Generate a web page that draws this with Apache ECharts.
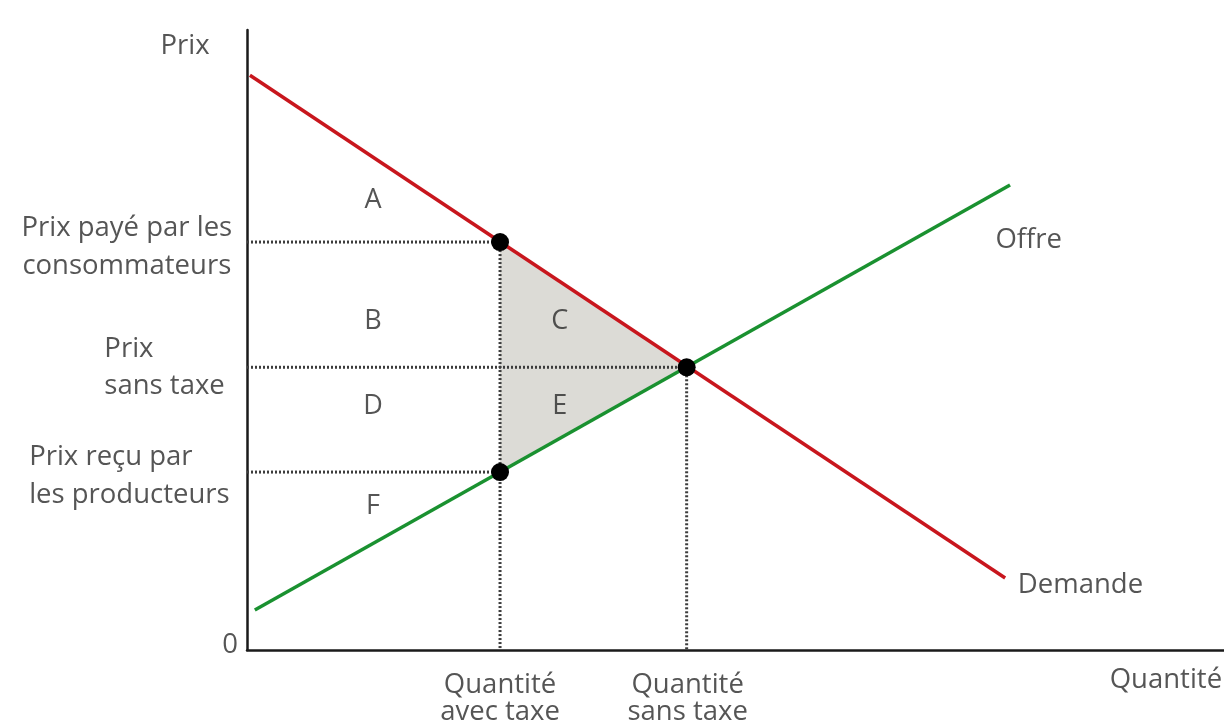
<!DOCTYPE html>
<html><head><meta charset="utf-8">
<script src="https://cdn.jsdelivr.net/npm/echarts@6/dist/echarts.min.js"></script>
<style>html,body{margin:0;padding:0;background:#fff}#c{width:1224px;height:726px}</style>
</head><body><div id="c"></div>
<script>
// ---- data (chart units 0..100 on both axes) ----
const demandLine = [[0.3, 92.7], [77.6, 11.6]];
const supplyLine = [[0.8, 6.45], [78.1, 75.0]];
const qTax = 25.9, qNoTax = 45.0;
const pConsumer = 65.8, pNoTax = 45.6, pProducer = 28.7;
const marketPoints = [[qTax, pConsumer], [qNoTax, pNoTax], [qTax, pProducer]];
const dwlTriangle = [[qTax, pConsumer], [qNoTax, pNoTax], [qTax, pProducer]];
const guideLines = [
  [[0, pConsumer], [qTax, pConsumer]],
  [[0, pNoTax], [qNoTax, pNoTax]],
  [[0, pProducer], [qTax, pProducer]],
  [[qTax, pConsumer], [qTax, 0]],
  [[qNoTax, pNoTax], [qNoTax, 0]]
];
const areaLetters = ['A', 'B', 'C', 'D', 'E', 'F'];
const areaLetterPos = [[12.9, 72.6], [12.9, 53.0], [32.0, 53.0], [12.9, 39.3], [32.0, 39.3], [12.9, 23.1]];
const labelTexts = ['Prix', 'Prix payé par les\nconsommateurs', 'Prix\nsans taxe', 'Prix reçu par\nles producteurs',
  '0', 'Quantité\navec taxe', 'Quantité\nsans taxe', 'Quantité', 'Offre', 'Demande'];
const labelPos = [[-6.35, 97.4], [-12.3, 64.9], [-14.6, 45.5], [-22.3, 28.1],
  [-1.74, 0.8], [qTax, -7.8], [45.1, -7.8], [88.3, -4.8], [76.6, 66.1], [78.9, 10.5]];
const labelAlign = ['center', 'center', 'left', 'left', 'center', 'center', 'center', 'left', 'left', 'left'];
const labelLineH = [36, 38, 37, 38, 30, 27, 27, 30, 30, 30];

const FONT = 'Open Sans';
const TXT = '#2b2b2b';

const series = [];
series.push({
  type: 'custom', z: 1, silent: true,
  renderItem: function (params, api) {
    const pts = dwlTriangle.map(p => api.coord(p));
    return { type: 'polygon', shape: { points: pts }, style: { fill: '#dcdbd6' } };
  },
  data: [0]
});
guideLines.forEach(seg => series.push({
  type: 'line', data: seg, symbol: 'none', z: 2, silent: true,
  lineStyle: { color: '#3c3c3c', width: 3, type: [2, 2] }
}));
series.push({ type: 'line', data: demandLine, symbol: 'none', z: 3, silent: true, lineStyle: { color: '#c8161d', width: 3.5 } });
series.push({ type: 'line', data: supplyLine, symbol: 'none', z: 3, silent: true, lineStyle: { color: '#1a9130', width: 3.5 } });
series.push({ type: 'scatter', data: marketPoints, symbol: 'circle', symbolSize: 18, z: 5, silent: true, itemStyle: { color: '#000', opacity: 1 } });
series.push({
  type: 'scatter', clip: false, z: 6, symbolSize: 1, silent: true, itemStyle: { color: 'rgba(0,0,0,0)' },
  data: areaLetters.map((t, i) => ({ value: areaLetterPos[i], name: t })),
  label: { show: true, position: 'inside', formatter: '{b}', fontFamily: FONT, fontSize: 27, color: TXT }
});
series.push({
  type: 'scatter', clip: false, z: 6, symbolSize: 1, silent: true, itemStyle: { color: 'rgba(0,0,0,0)' },
  data: labelTexts.map((t, i) => ({
    value: labelPos[i], name: t,
    label: { align: labelAlign[i], lineHeight: labelLineH[i] }
  })),
  label: { show: true, position: 'inside', formatter: '{b}', verticalAlign: 'middle', fontFamily: FONT, fontSize: 27.5, color: TXT }
});

const chart = echarts.init(document.getElementById('c'), null, { renderer: 'canvas' });
chart.setOption({
  animation: false,
  backgroundColor: '#fff',
  grid: { left: 247, right: 0, top: 30, bottom: 76 },
  xAxis: { type: 'value', min: 0, max: 100, axisLine: { show: true, onZero: false, lineStyle: { color: '#1a1a1a', width: 2.5 } },
    axisTick: { show: false }, axisLabel: { show: false }, splitLine: { show: false } },
  yAxis: { type: 'value', min: 0, max: 100, axisLine: { show: true, onZero: false, lineStyle: { color: '#1a1a1a', width: 2.5 } },
    axisTick: { show: false }, axisLabel: { show: false }, splitLine: { show: false } },
  series: series
});
</script></body></html>
